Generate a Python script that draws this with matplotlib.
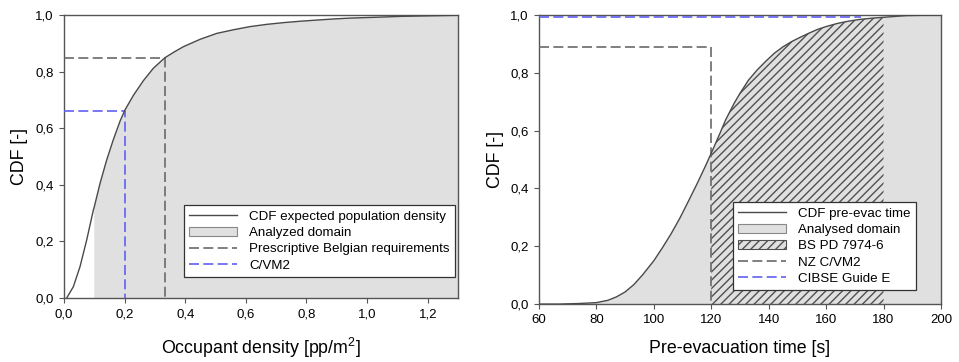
import matplotlib.pyplot as plt
import numpy as np
from matplotlib.lines import Line2D
from matplotlib.patches import Patch
from matplotlib.ticker import FuncFormatter

plt.rcParams['font.family'] = ['Liberation Sans', 'DejaVu Sans']
plt.rcParams['hatch.linewidth'] = 1.0

# left panel: occupant density CDF
density = [0.009, 0.031, 0.053, 0.075, 0.097, 0.1, 0.119, 0.141, 0.163, 0.185,
           0.201, 0.229, 0.262, 0.295, 0.333, 0.363, 0.394, 0.449, 0.504,
           0.56, 0.614, 0.67, 0.724, 0.78, 0.834, 0.89, 0.944, 1.03, 1.109,
           1.2, 1.3]
density_cdf = [0.0, 0.04, 0.111, 0.205, 0.311, 0.322, 0.405, 0.488, 0.56, 0.625,
               0.664, 0.716, 0.768, 0.812, 0.849, 0.869, 0.888, 0.914, 0.935,
               0.948, 0.959, 0.967, 0.973, 0.978, 0.982, 0.986, 0.989, 0.992,
               0.995, 0.997, 0.999]
density_domain = (0.1, 1.3)
belgian = (0.333, 0.849)
cvm2_density = (0.2, 0.662)

# right panel: pre-evacuation time CDF
pre_time = [60, 67, 74, 80, 84, 87, 90, 93, 96, 100, 103, 106, 109, 112, 115,
            118, 120, 123, 125, 128, 130, 133, 136, 139, 142, 145, 148, 151,
            154, 157, 160, 164, 168, 172, 176, 180, 184, 188, 194, 200]
pre_cdf = [0.0, 0.0, 0.002, 0.005, 0.013, 0.025, 0.042, 0.067, 0.1, 0.15,
           0.195, 0.243, 0.296, 0.355, 0.415, 0.478, 0.522, 0.59, 0.637, 0.695,
           0.729, 0.775, 0.81, 0.84, 0.868, 0.89, 0.908, 0.923, 0.937, 0.95,
           0.96, 0.971, 0.979, 0.985, 0.989, 0.992, 0.995, 0.998, 0.999, 1.0]
bs_range = (120, 180)
nz_cvm2 = (120, 0.89)
cibse = (172, 0.992)

CURVE = '#4a4a4a'
FILL = '#e0e0e0'
GREY_DASH = '#6a6a6a'
BLUE_DASH = '#6060f0'
DASHES = (6, 2.6)

comma = FuncFormatter(lambda v, pos: f'{v:.1f}'.replace('.', ','))

fig = plt.figure(figsize=(9.59, 3.62), dpi=100)
ax1 = fig.add_axes([0.0667, 0.1768, 0.4109, 0.7818])
ax2 = fig.add_axes([0.562, 0.160, 0.4192, 0.7986])


def style_axes(ax, ypad):
    for s in ax.spines.values():
        s.set_color('#555555')
        s.set_linewidth(1.0)
    ax.tick_params(direction='out', length=3.5, width=0.8, color='#555555',
                   labelsize=9.5, pad=4)
    ax.yaxis.set_major_formatter(comma)
    ax.set_ylim(0, 1.0)
    ax.set_yticks(np.arange(0, 1.01, 0.2))
    ax.set_ylabel('CDF [-]', fontsize=12.8, labelpad=ypad)


# ---- left
x = np.array(density)
y = np.array(density_cdf)
ax1.fill_between(x, 0, y, where=(x >= density_domain[0]) & (x <= density_domain[1]),
                 facecolor=FILL, edgecolor='none', zorder=1)
ax1.plot(x, y, color=CURVE, lw=1.0, zorder=4)
ax1.plot([0, belgian[0], belgian[0]], [belgian[1], belgian[1], 0],
         color=GREY_DASH, lw=1.2, dashes=DASHES, zorder=3)
ax1.plot([0, cvm2_density[0], cvm2_density[0]], [cvm2_density[1], cvm2_density[1], 0],
         color=BLUE_DASH, lw=1.2, dashes=DASHES, zorder=3)
ax1.set_xlim(0, 1.3)
ax1.set_xticks(np.arange(0, 1.21, 0.2))
ax1.xaxis.set_major_formatter(comma)
ax1.set_xlabel('Occupant density [pp/m$\\mathregular{^2}$]', fontsize=12.8, labelpad=11)
style_axes(ax1, 5)

h1 = [Line2D([], [], color=CURVE, lw=1.0),
      Patch(facecolor=FILL, edgecolor='#888888', lw=0.8),
      Line2D([], [], color=GREY_DASH, lw=1.2, dashes=DASHES),
      Line2D([], [], color=BLUE_DASH, lw=1.2, dashes=DASHES)]
l1 = ['CDF expected population density', 'Analyzed domain',
      'Prescriptive Belgian requirements', 'C/VM2']
leg1 = ax1.legend(h1, l1, loc='lower right', bbox_to_anchor=(0.992, 0.074),
                  borderaxespad=0, fontsize=9.6, fancybox=False, framealpha=1,
                  edgecolor='#333333', handlelength=3.6, handletextpad=0.9,
                  labelspacing=0.3, borderpad=0.4)
leg1.get_frame().set_linewidth(0.9)

# ---- right
t = np.array(pre_time)
c = np.array(pre_cdf)
ax2.fill_between(t, 0, c, facecolor=FILL, edgecolor='none', zorder=1)
ax2.fill_between(t, 0, c, where=(t >= bs_range[0]) & (t <= bs_range[1]),
                 facecolor=FILL, edgecolor='#505050', hatch='////', lw=0, zorder=2)
ax2.plot(t, c, color=CURVE, lw=1.0, zorder=4)
ax2.plot([60, nz_cvm2[0], nz_cvm2[0]], [nz_cvm2[1], nz_cvm2[1], 0],
         color=GREY_DASH, lw=1.2, dashes=DASHES, zorder=3)
ax2.plot([60, cibse[0]], [cibse[1], cibse[1]],
         color=BLUE_DASH, lw=1.2, dashes=DASHES, zorder=3)
ax2.set_xlim(60, 200)
ax2.set_xticks(np.arange(60, 201, 20))
ax2.set_xlabel('Pre-evacuation time [s]', fontsize=12.8, labelpad=10)
style_axes(ax2, 4)

h2 = [Line2D([], [], color=CURVE, lw=1.0),
      Patch(facecolor=FILL, edgecolor='#888888', lw=0.8),
      Patch(facecolor=FILL, edgecolor='#505050', hatch='////', lw=0.8),
      Line2D([], [], color=GREY_DASH, lw=1.2, dashes=DASHES),
      Line2D([], [], color=BLUE_DASH, lw=1.2, dashes=DASHES)]
l2 = ['CDF pre-evac time', 'Analysed domain', 'BS PD 7974-6', 'NZ C/VM2',
      'CIBSE Guide E']
leg2 = ax2.legend(h2, l2, loc='lower right', bbox_to_anchor=(0.938, 0.048),
                  borderaxespad=0, fontsize=9.6, fancybox=False, framealpha=1,
                  edgecolor='#333333', handlelength=3.6, handletextpad=0.9,
                  labelspacing=0.3, borderpad=0.4)
leg2.get_frame().set_linewidth(0.9)

fig.savefig('out.png', dpi=100)
